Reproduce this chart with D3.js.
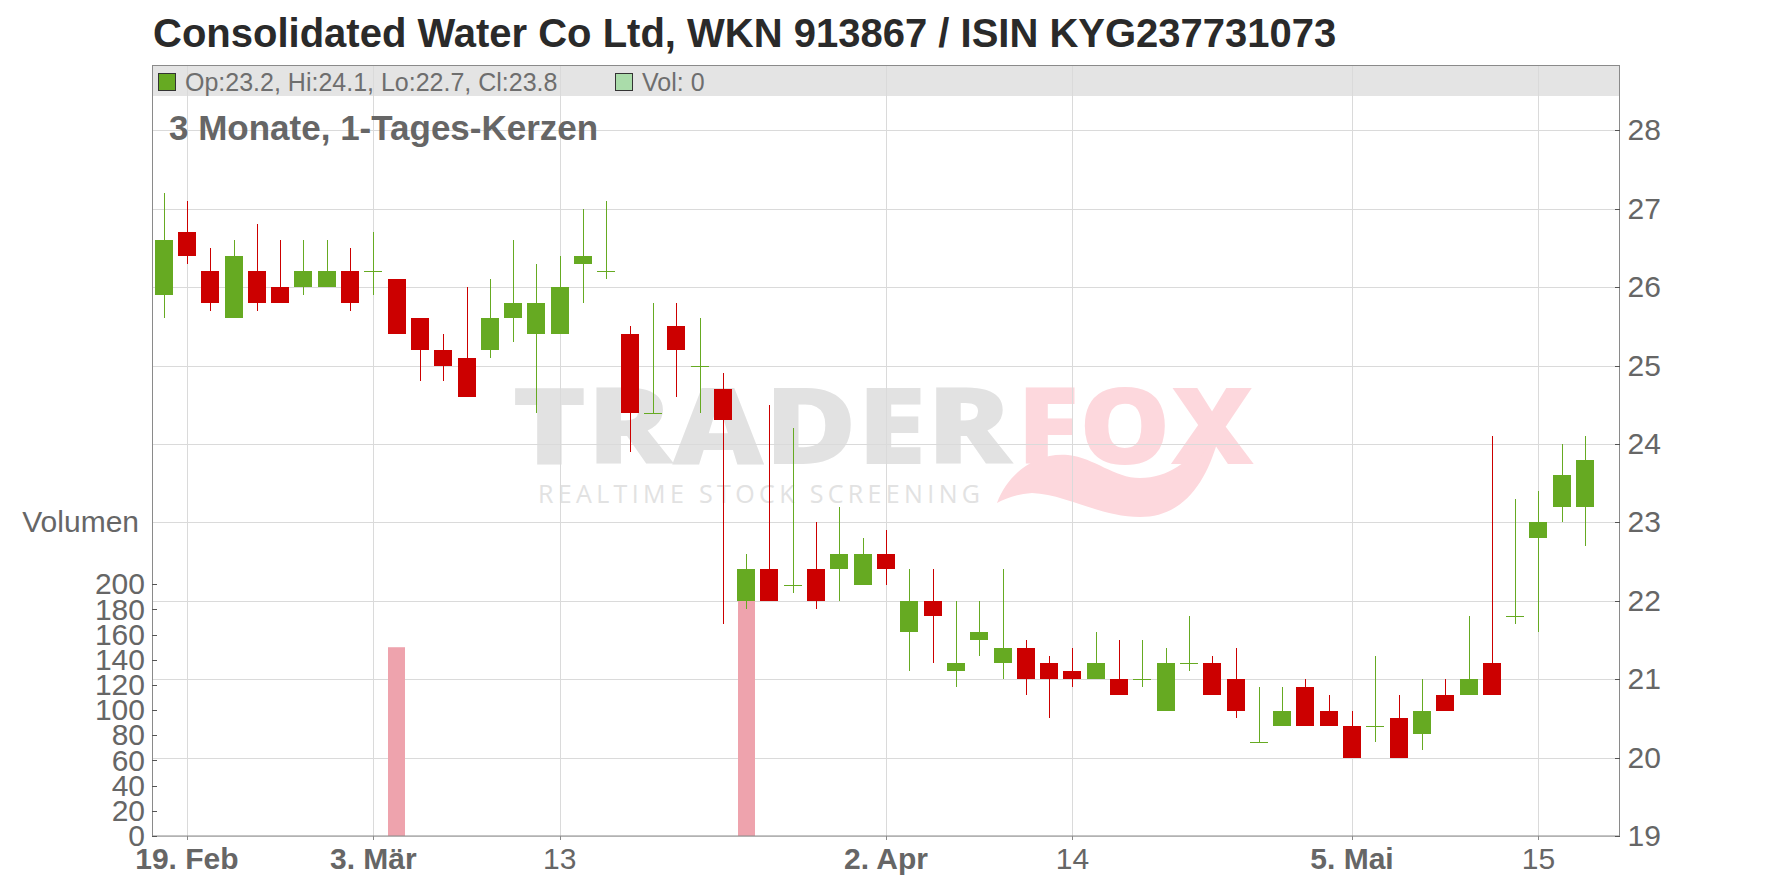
<!DOCTYPE html>
<html><head><meta charset="utf-8">
<script src="https://cdn.jsdelivr.net/npm/d3@7/dist/d3.min.js"></script>
<style>
html,body{margin:0;padding:0;background:#fff;}
svg{display:block;font-family:"Liberation Sans",Arial,Helvetica,sans-serif;}
</style></head><body>
<svg id="chart" width="1776" height="888"></svg>
<script>
// ---------------- DATA ----------------
const title = "Consolidated Water Co Ltd, WKN 913867 / ISIN KYG237731073";
const subtitle = "3 Monate, 1-Tages-Kerzen";
const dates = [
  "2026-02-18","2026-02-19","2026-02-20","2026-02-23","2026-02-24","2026-02-25","2026-02-26","2026-02-27",
  "2026-03-02","2026-03-03","2026-03-04","2026-03-05","2026-03-06","2026-03-09","2026-03-10","2026-03-11",
  "2026-03-12","2026-03-13","2026-03-16","2026-03-17","2026-03-18","2026-03-19","2026-03-20","2026-03-23",
  "2026-03-24","2026-03-25","2026-03-26","2026-03-27","2026-03-30","2026-03-31","2026-04-01","2026-04-02",
  "2026-04-03","2026-04-06","2026-04-07","2026-04-08","2026-04-09","2026-04-10","2026-04-13","2026-04-14",
  "2026-04-15","2026-04-16","2026-04-20","2026-04-21","2026-04-22","2026-04-23","2026-04-27","2026-04-28",
  "2026-04-29","2026-04-30","2026-05-04","2026-05-05","2026-05-06","2026-05-07","2026-05-08","2026-05-11",
  "2026-05-12","2026-05-13","2026-05-14","2026-05-15","2026-05-18","2026-05-19"
];
const opens = [
  25.9,26.7,26.2,25.6,26.2,26.0,26.0,26.0,26.2,26.2,26.1,25.6,25.2,25.1,25.2,25.6,
  25.4,25.4,26.3,26.2,25.4,24.4,25.5,25.0,24.7,22.0,22.4,22.2,22.4,22.4,22.2,22.6,
  21.6,22.0,21.1,21.5,21.2,21.4,21.2,21.1,21.0,21.0,21.0,20.6,21.2,21.2,21.0,20.2,
  20.4,20.9,20.6,20.4,20.4,20.5,20.3,20.8,20.8,21.2,21.8,22.8,23.2,23.2
];
const highs = [
  27.2,27.1,26.5,26.6,26.8,26.6,26.6,26.6,26.5,26.7,26.1,25.6,25.4,26.0,26.1,26.6,
  26.3,26.4,27.0,27.1,25.5,25.8,25.8,25.6,24.9,22.6,24.5,24.2,23.0,23.2,22.8,22.9,
  22.4,22.4,22.0,22.0,22.4,21.5,21.3,21.4,21.6,21.5,21.5,21.4,21.8,21.3,21.4,20.9,
  20.9,21.0,20.8,20.6,21.3,20.8,21.0,21.0,21.8,24.1,23.3,23.4,24.0,24.1
];
const lows = [
  25.6,26.3,25.7,25.6,25.7,25.8,25.9,26.0,25.7,25.9,25.4,24.8,24.8,24.6,25.1,25.3,
  24.4,25.4,25.8,26.1,23.9,24.4,24.6,24.4,21.7,21.9,22.0,22.1,21.9,22.0,22.2,22.2,
  21.1,21.2,20.9,21.3,21.0,20.8,20.5,20.9,21.0,20.8,20.9,20.6,21.1,20.8,20.5,20.2,
  20.4,20.4,20.4,20.0,20.2,20.0,20.1,20.6,20.8,20.8,21.7,21.6,23.0,22.7
];
const closes = [
  26.6,26.4,25.8,26.4,25.8,25.8,26.2,26.2,25.8,26.2,25.4,25.2,25.0,24.6,25.6,25.8,
  25.8,26.0,26.4,26.2,24.4,24.4,25.2,25.0,24.3,22.4,22.0,22.2,22.0,22.6,22.6,22.4,
  22.0,21.8,21.2,21.6,21.4,21.0,21.0,21.0,21.2,20.8,21.0,21.2,21.2,20.8,20.6,20.2,
  20.6,20.4,20.4,20.0,20.4,20.0,20.6,20.6,21.0,20.8,21.8,23.0,23.6,23.8
];
const volumes = [
  0,0,0,0,0,0,0,0,0,0,150,0,0,0,0,0,
  0,0,0,0,0,0,0,0,0,190,0,0,0,0,0,0,
  0,0,0,0,0,0,0,0,0,0,0,0,0,0,0,0,
  0,0,0,0,0,0,0,0,0,0,0,0,0,0
];
const priceTicks = [19,20,21,22,23,24,25,26,27,28];
const volumeTicks = [0,20,40,60,80,100,120,140,160,180,200];
const xTickDates  = ["2026-02-19","2026-03-03","2026-03-13","2026-04-02","2026-04-14","2026-05-05","2026-05-15"];
const xTickLabels = ["19. Feb","3. Mär","13","2. Apr","14","5. Mai","15"];
const xTickBold   = [true,true,false,true,false,true,false];
const legendPrice = "Op:23.2, Hi:24.1, Lo:22.7, Cl:23.8";
const legendVol = "Vol: 0";

// ---------------- LAYOUT ----------------
const L = 152, R = 1620, T = 65.5, B = 836;
const UP = "#66aa22", DOWN = "#cc0000", VOLC = "#eea3ad";
const GRID = "#dadada", AXIS = "#8a8a8a", TXT = "#666666";

const svg = d3.select("#chart");
svg.append("rect").attr("width",1776).attr("height",888).attr("fill","#fff");

const x = d3.scaleLinear().domain([-0.5, dates.length + 0.5]).range([L, R]);
const y = d3.scaleLinear().domain([19, 28]).range([B, 130.3]);
const yv = d3.scaleLinear().domain([0, 200]).range([B, 584.3]);
const cr = v => Math.round(v) + 0.5;

// legend band
svg.append("rect").attr("x",L).attr("y",T).attr("width",R-L).attr("height",30.5).attr("fill","#e4e4e4");

// watermark
const wm = svg.append("g");
wm.append("text").attr("x",512).attr("y",464).attr("textLength",500).attr("lengthAdjust","spacingAndGlyphs")
  .style("font-family","'Open Sans',sans-serif").style("font-weight","800").style("font-size","106px")
  .attr("fill","#e2e2e2").text("TRADER");
wm.append("path")
  .attr("d","M997,503 C1008,472 1038,452 1068,455 C1095,458 1114,478 1140,478 C1168,478 1190,462 1206,436 L1218,440 C1206,482 1184,517 1140,517 C1100,517 1065,494 1032,493 C1016,494 1005,499 997,503 Z")
  .attr("fill","#fdd8dd");
wm.append("text").attr("x",1017).attr("y",464).attr("textLength",237).attr("lengthAdjust","spacingAndGlyphs")
  .style("font-family","'Open Sans',sans-serif").style("font-weight","800").style("font-size","106px")
  .attr("fill","#fdd8dd").text("FOX");
wm.append("text").attr("x",538).attr("y",503).attr("textLength",442).attr("lengthAdjust","spacing")
  .style("font-family","'Open Sans',sans-serif").style("font-size","25px")
  .attr("fill","#e2e2e2").text("REALTIME STOCK SCREENING");

// horizontal gridlines
svg.append("g").selectAll("line").data(priceTicks).join("line")
  .attr("x1",L).attr("x2",R).attr("y1",d=>cr(y(d))).attr("y2",d=>cr(y(d)))
  .attr("stroke",GRID).attr("stroke-width",1);

// vertical gridlines
const xTickIdx = xTickDates.map(d => dates.indexOf(d));
svg.append("g").selectAll("line").data(xTickIdx).join("line")
  .attr("x1",d=>cr(x(d))).attr("x2",d=>cr(x(d))).attr("y1",T).attr("y2",B)
  .attr("stroke",GRID).attr("stroke-width",1);

// volume bars
svg.append("g").selectAll("rect").data(volumes.map((v,i)=>({v,i})).filter(d=>d.v>0)).join("rect")
  .attr("x",d=>Math.round(x(d.i)-8.5)).attr("width",17)
  .attr("y",d=>yv(d.v)).attr("height",d=>B-yv(d.v)).attr("fill",VOLC);

// candles
const candles = dates.map((d,i)=>({i,o:opens[i],h:highs[i],l:lows[i],c:closes[i]}));
const cg = svg.append("g").attr("shape-rendering","crispEdges");
candles.forEach(d=>{
  const col = d.c >= d.o ? UP : DOWN;
  const cx = x(d.i);
  cg.append("line").attr("x1",cr(cx)).attr("x2",cr(cx)).attr("y1",y(d.h)).attr("y2",y(d.l))
    .attr("stroke",col).attr("stroke-width",1.2);
  if (d.o === d.c) {
    cg.append("line").attr("x1",Math.round(cx-9)).attr("x2",Math.round(cx+9))
      .attr("y1",cr(y(d.o))).attr("y2",cr(y(d.o))).attr("stroke",col).attr("stroke-width",1.2);
  } else {
    const top = y(Math.max(d.o,d.c)), bot = y(Math.min(d.o,d.c));
    cg.append("rect").attr("x",Math.round(cx-9)).attr("width",18)
      .attr("y",top).attr("height",bot-top).attr("fill",col);
  }
});

// plot border
svg.append("rect").attr("x",L+0.5).attr("y",T).attr("width",R-L-1).attr("height",B-T)
  .attr("fill","none").attr("stroke",AXIS).attr("stroke-width",1);

// right price axis
const ra = svg.append("g").attr("transform",`translate(${R-0.5},0)`)
  .call(d3.axisRight(y).tickValues(priceTicks).tickSize(0).tickPadding(8).tickFormat(d3.format("d")));
ra.select(".domain").remove();
ra.selectAll("text").attr("fill",TXT).style("font-size","30px").style("font-family","'Liberation Sans',Arial,sans-serif");
svg.append("g").selectAll("line").data(priceTicks).join("line")
  .attr("x1",R-5).attr("x2",R).attr("y1",d=>cr(y(d))).attr("y2",d=>cr(y(d))).attr("stroke","#555");

// left volume axis
const la = svg.append("g").attr("transform",`translate(${L},0)`)
  .call(d3.axisLeft(yv).tickValues(volumeTicks).tickSize(0).tickPadding(7).tickFormat(d3.format("d")));
la.select(".domain").remove();
la.selectAll("text").attr("fill",TXT).style("font-size","30px").style("font-family","'Liberation Sans',Arial,sans-serif");
svg.append("g").selectAll("line").data(volumeTicks).join("line")
  .attr("x1",L).attr("x2",L+5).attr("y1",d=>cr(yv(d))).attr("y2",d=>cr(yv(d))).attr("stroke","#555");
svg.append("text").attr("x",139).attr("y",532).attr("text-anchor","end")
  .attr("fill",TXT).style("font-size","30px").text("Volumen");

// x axis ticks & labels
svg.append("g").selectAll("line").data(xTickIdx).join("line")
  .attr("x1",d=>cr(x(d))).attr("x2",d=>cr(x(d))).attr("y1",B).attr("y2",B+4).attr("stroke",AXIS);
svg.append("g").selectAll("text").data(xTickIdx).join("text")
  .attr("x",d=>x(d)).attr("y",869).attr("text-anchor","middle")
  .attr("fill",TXT).style("font-size","30px")
  .style("font-weight",(d,i)=>xTickBold[i]?"bold":"normal")
  .text((d,i)=>xTickLabels[i]);

// legend
svg.append("rect").attr("x",158.5).attr("y",73.5).attr("width",17).attr("height",17)
  .attr("fill",UP).attr("stroke","#333");
svg.append("text").attr("x",185).attr("y",90.5).attr("fill","#6e6e6e").style("font-size","25px").text(legendPrice);
svg.append("rect").attr("x",615.5).attr("y",73.5).attr("width",17).attr("height",17)
  .attr("fill","#aadcaa").attr("stroke","#333");
svg.append("text").attr("x",642).attr("y",90.5).attr("fill","#6e6e6e").style("font-size","25px").text(legendVol);

// titles
svg.append("text").attr("x",153).attr("y",47).attr("fill","#2a2a2a")
  .style("font-size","40px").style("font-weight","bold").text(title);
svg.append("text").attr("x",169).attr("y",140).attr("fill","#666")
  .style("font-size","35px").style("font-weight","bold").text(subtitle);
</script>
</body></html>
